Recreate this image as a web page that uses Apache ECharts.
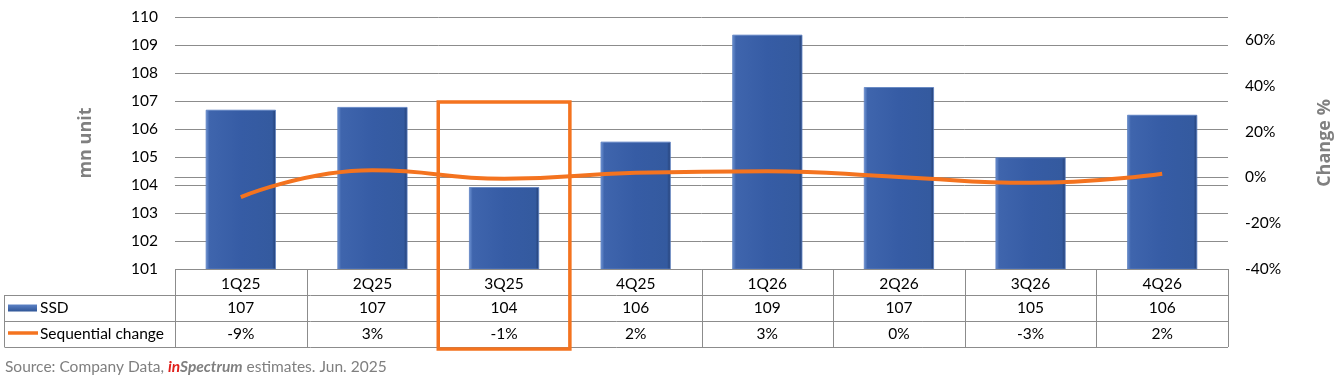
<!DOCTYPE html>
<html>
<head>
<meta charset="utf-8">
<script src="https://cdn.jsdelivr.net/npm/echarts@6/dist/echarts.min.js"></script>
<style>
html,body{margin:0;padding:0;background:#fff;}
#c{width:1344px;height:381px;}
</style>
</head>
<body>
<div id="c"></div>
<script>
// ---- data ----
const categories = ['1Q25','2Q25','3Q25','4Q25','1Q26','2Q26','3Q26','4Q26'];
const ssd = [106.68, 106.78, 103.92, 105.54, 109.36, 107.49, 104.98, 106.5];
const seqChange = [-8.6, 3.1, -0.6, 2.0, 2.7, 0.2, -2.4, 1.6];
const ssdTable = ['107','107','104','106','109','107','105','106'];
const changeTable = ['-9%','3%','-1%','2%','3%','0%','-3%','2%'];
const seriesNames = ['SSD','Sequential change'];
const highlightIndex = 2;
const sourceParts = ['Source: Company Data, ', 'in', 'Spectrum', ' estimates. Jun. 2025'];

const FONT = 'Lato';
const NAMEFONT = 'Open Sans';
const GRID = {left:175, right:116, top:17, bottom:112, containLabel:false, outerBoundsMode:'none'};
const BORDER = '#8c8c8c';
const ORANGE = '#F4731F';

const chart = echarts.init(document.getElementById('c'), null, {renderer:'canvas'});
const option = {
  animation:false,
  textStyle:{fontFamily:FONT},
  grid:GRID,
  xAxis:{
    type:'category', data:categories,
    axisLine:{show:true, lineStyle:{color:BORDER}},
    axisTick:{show:false},
    axisLabel:{color:'#000', fontSize:15.5, fontFamily:FONT, margin:7}
  },
  yAxis:[
    {type:'value', min:101, max:110, interval:1,
     name:'mn unit', nameLocation:'middle', nameRotate:90, nameGap:80,
     nameTextStyle:{color:'#808080', fontSize:18, fontWeight:'bold', fontFamily:NAMEFONT},
     axisLine:{show:false}, axisTick:{show:false},
     axisLabel:{color:'#000', fontSize:15.5, fontFamily:FONT, margin:17},
     splitLine:{lineStyle:{color:BORDER, width:1}}},
    {type:'value', min:-40, max:70, interval:20, position:'right',
     name:'Change %', nameLocation:'middle', nameRotate:90, nameGap:88,
     nameTextStyle:{color:'#808080', fontSize:18, fontWeight:'bold', fontFamily:NAMEFONT},
     axisLine:{show:false}, axisTick:{show:false}, splitLine:{show:false},
     axisLabel:{color:'#000', fontSize:15.5, fontFamily:FONT, margin:17, showMaxLabel:false,
       formatter:v=>v+'%'}}
  ],
  series:[
    {name:seriesNames[0], type:'bar', data:ssd, barWidth:'53%', yAxisIndex:0,
     itemStyle:{color:{type:'linear',x:0,y:0,x2:1,y2:0,colorStops:[
       {offset:0,color:'#6d92d2'},{offset:0.05,color:'#3f65ad'},{offset:0.5,color:'#365ca5'},
       {offset:0.95,color:'#345a9f'},{offset:1,color:'#243f73'}]},
       borderColor:'#5a7fc0', borderWidth:0.5}},
    {name:seriesNames[1], type:'line', data:seqChange, yAxisIndex:1, smooth:0.5,
     symbol:'none', lineStyle:{color:ORANGE, width:4}, z:5}
  ]
};
chart.setOption(option);

// ---- table & annotations ----
function build(){
  const g = [];
  const c0 = chart.convertToPixel({xAxisIndex:0}, 0);
  const c1 = chart.convertToPixel({xAxisIndex:0}, 1);
  const colW = c1 - c0;
  const left = c0 - colW/2;
  const right = left + colW*categories.length;
  const yTop = chart.convertToPixel({yAxisIndex:0}, 101);
  const rowH = 26;
  const r1 = yTop + rowH, r2 = yTop + 2*rowH, r3 = yTop + 3*rowH;
  const tableLeft = 4.5;
  const line = (x1,y1,x2,y2,color,w)=>g.push({type:'line', shape:{x1,y1,x2,y2}, style:{stroke:color||BORDER, lineWidth:w||1}, silent:true, z:10});
  // horizontal lines
  line(left, yTop+0.5, right, yTop+0.5);
  [r1,r2,r3].forEach(y=>line(tableLeft, Math.round(y)+0.5, right, Math.round(y)+0.5));
  // vertical lines
  for(let i=0;i<=categories.length;i++){
    const x = Math.round(left + i*colW)+0.5;
    line(x, yTop, x, r3);
  }
  line(tableLeft, r1, tableLeft, r3);
  // cells
  const txt = (x,y,t,align)=>g.push({type:'text', x, y, style:{text:t, fill:'#000', font:'15.5px '+FONT, textAlign:align||'center', textVerticalAlign:'middle'}, silent:true, z:11});
  categories.forEach((c,i)=>{
    const cx = left + (i+0.5)*colW;
    txt(cx, r1+rowH/2, ssdTable[i]);
    txt(cx, r2+rowH/2, changeTable[i]);
  });
  // legend keys
  g.push({type:'rect', shape:{x:8, y:r1+rowH/2-3.5, width:29, height:7},
    style:{fill:{type:'linear',x:0,y:0,x2:0,y2:1,colorStops:[{offset:0,color:'#5c82c6'},{offset:1,color:'#2f5597'}]}}, silent:true, z:11});
  g.push({type:'line', shape:{x1:8, y1:r2+rowH/2-1, x2:38, y2:r2+rowH/2-1}, style:{stroke:ORANGE, lineWidth:3.5}, silent:true, z:11});
  txt(40, r1+rowH/2, seriesNames[0], 'left');
  txt(40, r2+rowH/2, seriesNames[1], 'left');
  // highlight rectangle
  const hx = left + highlightIndex*colW;
  const hTop = chart.convertToPixel({yAxisIndex:0}, 107) + 1;
  g.push({type:'rect', shape:{x:hx, y:hTop, width:colW, height:r3+2-hTop},
    style:{fill:'none', stroke:ORANGE, lineWidth:3.5}, silent:true, z:20});
  // source
  g.push({type:'text', x:5, y:367, style:{
    text:'{a|'+sourceParts[0]+'}{b|'+sourceParts[1]+'}{c|'+sourceParts[2]+'}{a|'+sourceParts[3]+'}',
    textVerticalAlign:'middle',
    rich:{
      a:{fill:'#7f7f7f', fontSize:15.5, fontFamily:FONT},
      b:{fill:'#e0201b', fontSize:15.5, fontFamily:FONT, fontWeight:'bold', fontStyle:'italic'},
      c:{fill:'#7f7f7f', fontSize:15.5, fontFamily:FONT, fontWeight:'bold', fontStyle:'italic'}
    }}, silent:true, z:11});
  chart.setOption({graphic:g});
}
build();
</script>
</body>
</html>
